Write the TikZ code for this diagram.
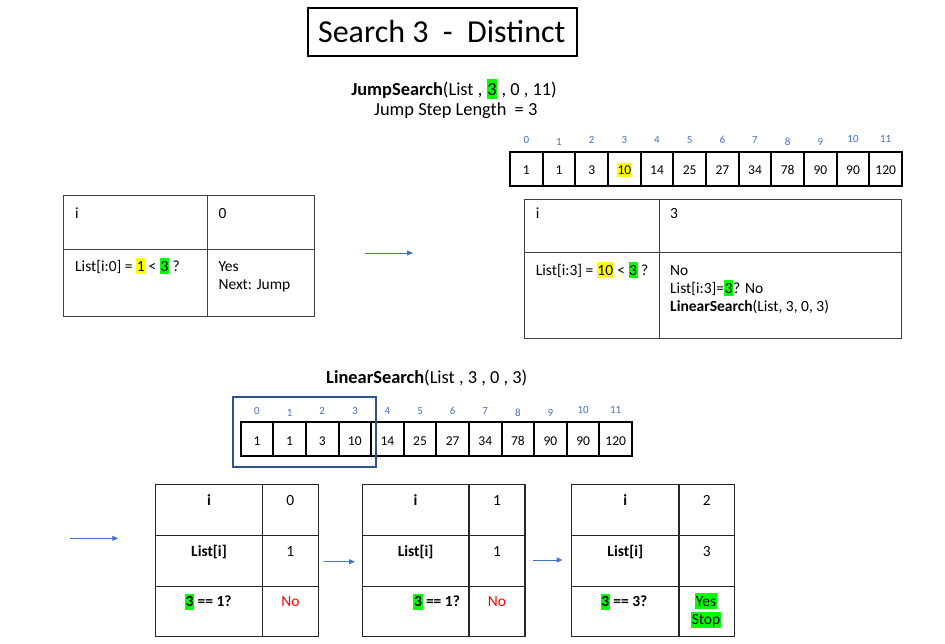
\documentclass[tikz,border=0pt]{standalone}
\usepackage{fontspec}
\setmainfont{Carlito}
\usetikzlibrary{arrows.meta}
\definecolor{idxblue}{HTML}{4472C4}
\definecolor{boxblue}{HTML}{2F528F}
\definecolor{hlgreen}{HTML}{00FF00}
\definecolor{hlyellow}{HTML}{FFFF00}
\definecolor{nored}{HTML}{FF0000}
\definecolor{tline}{HTML}{404040}
\newcommand\hly[1]{{\setlength{\fboxsep}{0pt}\colorbox{hlyellow}{\rule[-0.2em]{0pt}{1.05em}\kern0.04em#1\kern0.04em}}}
\newcommand\hlg[1]{{\setlength{\fboxsep}{0pt}\colorbox{hlgreen}{\rule[-0.2em]{0pt}{1.05em}\kern0.04em#1\kern0.04em}}}
\tikzset{
  txt/.style={inner sep=0pt, font=\fontsize{15.5}{18.3}\selectfont},
  ltxt/.style={txt, anchor=base west},
  ctxt/.style={txt, anchor=base},
  head/.style={inner sep=0pt, anchor=base, font=\fontsize{18.4}{22}\selectfont},
  num/.style={inner sep=0pt, anchor=base, font=\fontsize{13.5}{16}\selectfont},
  idx/.style={inner sep=0pt, anchor=base, text=idxblue, font=\fontsize{11}{13}\selectfont},
  cellbox/.style={draw=black, line width=2pt},
  tabline/.style={draw=tline, line width=1pt},
  btabline/.style={draw=black!85, line width=1.3pt},
  flow/.style={draw=idxblue, line width=1pt, -{Triangle[length=6pt,width=5pt]}},
}
\begin{document}
\begin{tikzpicture}[x=1pt,y=-1pt]
\useasboundingbox (0,0) rectangle (945,643);
\fill[white] (0,0) rectangle (945,643);

% title
\node[draw=black, line width=1.6pt, minimum width=269pt, minimum height=48pt, inner sep=0pt] (title) at (442.5,32) {};
\node[inner sep=0pt, anchor=base, font=\fontsize{32}{38}\selectfont] (titletext) at (441.7,42.7) {Search 3\ \ -\ \ Distinct};

% jump search header
\node[head] (js) at (454,95) {\textbf{JumpSearch}(List , \hlg{3} , 0 , 11)};
\node[head] (jsl) at (455.8,115) {Jump Step Length \ = 3};

% top array
\foreach \v [count=\i from 0] in {1,1,3,{\hly{10}},14,25,27,34,78,90,90,120} {
  \draw[cellbox] ({510+\i*32.67},152.3) rectangle ({510+(\i+1)*32.67},185.7);
  \node[num] (ta\i) at ({510+\i*32.67+16.33},174.3) {\v};
}
\foreach \d/\o [count=\i from 0] in {0/0,1/1.7,2/0,3/0,4/0,5/0,6/0,7/0,8/1.7,9/1.7,10/-1,11/-1} {
  \node[idx] (ti\i) at ({510+\i*32.67+16.33},143.3+\o) {\d};
}

% left table
\draw[tabline] (63.3,195) rectangle (314.3,316.7);
\draw[tabline] (207.3,195) -- (207.3,316.7);
\draw[tabline] (63.3,249.3) -- (314.3,249.3);
\node[ltxt] (l1) at (75,218.3) {i};
\node[ltxt] (l2) at (218.3,218.3) {0};
\node[ltxt] (l3) at (75,271.3) {List[i:0] = \hly{1} < \hlg{3} ?};
\node[ltxt] (l4) at (218.3,271.3) {Yes};
\node[ltxt] (l5) at (218.3,289.6) {Next: Jump};

% arrow 1
\coordinate (a1s) at (365,253);
\coordinate (a1e) at (413,253);
\draw[flow] (a1s) -- (a1e);

% right table
\draw[tabline] (524.3,199.3) rectangle (901.7,338.3);
\draw[tabline] (659,199.3) -- (659,338.3);
\draw[tabline] (524.3,252.7) -- (901.7,252.7);
\node[ltxt] (r1) at (535.7,218.3) {i};
\node[ltxt] (r2) at (670,218.3) {3};
\node[ltxt] (r3) at (535.7,275) {List[i:3] = \hly{10} < \hlg{3} ?};
\node[ltxt] (r4) at (670,275) {No};
\node[ltxt] (r5) at (670,293.3) {List[i:3]=\hlg{3}? No};
\node[ltxt] (r6) at (670,311.6) {\textbf{LinearSearch}(List, 3, 0, 3)};

% linear search header
\node[head] (ls) at (426.7,383.3) {\textbf{LinearSearch}(List , 3 , 0 , 3)};

% linear array
\foreach \v [count=\i from 0] in {1,1,3,10,14,25,27,34,78,90,90,120} {
  \draw[cellbox] ({240.7+\i*32.61},421.7) rectangle ({240.7+(\i+1)*32.61},456);
  \node[num] (la\i) at ({240.7+\i*32.61+16.3},445) {\v};
}
\foreach \d/\o [count=\i from 0] in {0/0,1/1.7,2/0,3/0,4/0,5/0,6/0,7/0,8/1.7,9/1.7,10/-1,11/-1} {
  \node[idx] (li\i) at ({240.7+\i*32.61+16.3},414.3+\o) {\d};
}
\draw[draw=boxblue, line width=2pt] (232.7,397.3) rectangle (375.7,467.3);

% bottom tables
\foreach \L/\M/\R in {155.7/262.3/318.3, 362.3/469/525, 571.7/679/734.3} {
  \draw[btabline] (\L,484.7) rectangle (\R,636.7);
  \draw[btabline] (\M,484.7) -- (\M,636.7);
  \draw[btabline] (\L,535.7) -- (\R,535.7);
  \draw[btabline] (\L,586.7) -- (\R,586.7);
}
% table 1
\node[ctxt] (b1a) at (209,505) {\textbf{i}};
\node[ctxt] (b1b) at (290.3,505) {0};
\node[ctxt] (b1c) at (209,556.7) {\textbf{List[i]}};
\node[ctxt] (b1d) at (290.3,556.7) {1};
\node[ctxt] (b1e) at (208.3,606.7) {\textbf{\hlg{3} == 1?}};
\node[ctxt, text=nored] (b1f) at (290.5,606.7) {No};
% table 2
\node[ctxt] (b2a) at (415.6,505) {\textbf{i}};
\node[ctxt] (b2b) at (497,505) {1};
\node[ctxt] (b2c) at (415.6,556.7) {\textbf{List[i]}};
\node[ctxt] (b2d) at (497,556.7) {1};
\node[ctxt] (b2e) at (436.7,606.7) {\textbf{\hlg{3} == 1?}};
\node[ctxt, text=nored] (b2f) at (497,606.7) {No};
% table 3
\node[ctxt] (b3a) at (625.3,505) {\textbf{i}};
\node[ctxt] (b3b) at (706.7,505) {2};
\node[ctxt] (b3c) at (625.3,556.7) {\textbf{List[i]}};
\node[ctxt] (b3d) at (706.7,556.7) {3};
\node[ctxt] (b3e) at (624,606.7) {\textbf{\hlg{3} == 3?}};
\node[ctxt] (b3f) at (706,606) {\hlg{Yes}};
\node[ctxt] (b3g) at (706,624.8) {\hlg{Stop}};

% bottom arrows
\coordinate (a2s) at (70,538.3);
\coordinate (a2e) at (118.3,538.3);
\draw[flow] (a2s) -- (a2e);
\coordinate (a3s) at (324.3,561.7);
\coordinate (a3e) at (355,561.7);
\draw[flow] (a3s) -- (a3e);
\coordinate (a4s) at (532.7,560);
\coordinate (a4e) at (562.7,560);
\draw[flow] (a4s) -- (a4e);
\end{tikzpicture}
\end{document}
